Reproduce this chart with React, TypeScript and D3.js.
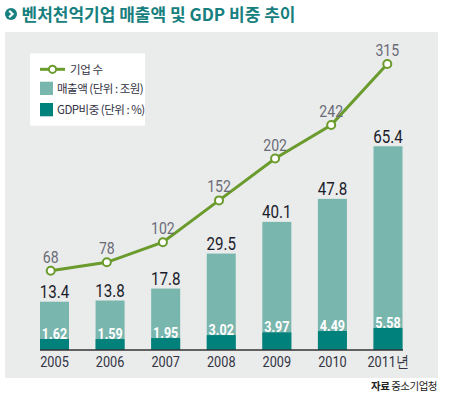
import React from 'react';
import * as d3 from 'd3';

const years = ['2005', '2006', '2007', '2008', '2009', '2010', '2011년'];
const companies = [68, 78, 102, 152, 202, 242, 315];
const sales = [13.4, 13.8, 17.8, 29.5, 40.1, 47.8, 65.4];
const gdpShare = [1.62, 1.59, 1.95, 3.02, 3.97, 4.49, 5.58];

const NUM_FONT = '"Roboto", sans-serif';
const KR_FONT = '"Noto Sans CJK KR", "Noto Sans", sans-serif';

// narrow-looking numbers: squeeze Roboto horizontally
const Narrow = ({ x, y, sx, children, ...rest }: any) => (
  <text transform={`translate(${x},${y}) scale(${sx},1)`} textAnchor="middle" fontFamily={NUM_FONT} {...rest}>
    {children}
  </text>
);

const App = () => {
  const base = 350;

  // bar centres and line points
  const xBar = d3.scalePoint<string>().domain(years).range([54.5, 388]);
  const xLine = d3.scalePoint<string>().domain(years).range([50.7, 387.3]);
  const barW = 29;

  const ySales = d3.scaleLinear().domain([-2.75, 70]).range([base, 132.5]);
  const yGdp = d3.scaleLinear().domain([0, 10]).range([base - 6.5, base - 6.5 - 27.8]);
  const yCount = d3.scaleLinear().domain([0, 315]).range([327.6, 64]);

  const line = d3.line<number>()
    .x((_, i) => xLine(years[i]) as number)
    .y(d => yCount(d));

  return (
    <svg width={450} height={399} style={{ position: 'absolute', left: 0, top: 0 }}>
      <rect width={450} height={399} fill="#fff" />
      {/* title */}
      <circle cx={11} cy={14} r={6} fill="#17807e" />
      <path d="M9.2,10.8 L12.6,14 L9.2,17.2" fill="none" stroke="#fff" strokeWidth={2.2} />
      <text x={21.5} y={20.5} fontFamily={KR_FONT} fontWeight={700} fontSize={17} fill="#17807e">
        벤처천억기업 매출액 및 GDP 비중 추이
      </text>

      <rect x={5} y={32} width={433} height={346} fill="#e9eceb" />

      {/* legend */}
      <rect x={30} y={53.3} width={115} height={72.4} fill="#fff" />
      <line x1={40} x2={65} y1={69.3} y2={69.3} stroke="#6a9b2c" strokeWidth={3} />
      <circle cx={52.5} cy={69.3} r={3.6} fill="#fff" stroke="#6a9b2c" strokeWidth={2} />
      <text x={70} y={73.5} fontFamily={KR_FONT} fontSize={11.5} fill="#333344" letterSpacing={-0.4}>기업 수</text>
      <rect x={40} y={81.7} width={13} height={13.3} fill="#79b6ae" />
      <text x={57} y={92.7} fontFamily={KR_FONT} fontSize={11.5} fill="#333344" letterSpacing={-0.5}>매출액 (단위 : 조원)</text>
      <rect x={40} y={103} width={13} height={13.3} fill="#00817b" />
      <text x={57} y={114} fontFamily={KR_FONT} fontSize={11.5} fill="#333344" letterSpacing={-0.5}>GDP비중 (단위 : %)</text>

      {/* bars */}
      {years.map((y, i) => {
        const cx = xBar(y) as number;
        const top = ySales(sales[i]);
        const gTop = yGdp(gdpShare[i]);
        return (
          <g key={y}>
            <rect x={cx - barW / 2} y={top} width={barW} height={base - top} fill="#79b6ae" />
            <rect x={cx - barW / 2} y={gTop} width={barW} height={base - gTop} fill="#00817b" />
            <Narrow x={cx} y={top - 3.5} sx={0.82} fontSize={18.5} fill="#1c1c2c">
              {sales[i].toFixed(1)}
            </Narrow>
            <Narrow x={cx} y={gTop} sx={0.84} fontSize={15} fontWeight={700} fill="#fff">
              {gdpShare[i].toFixed(2)}
            </Narrow>
            <Narrow x={cx} y={367} sx={0.82} fontSize={15.5} fill="#333344">
              {y}
            </Narrow>
          </g>
        );
      })}
      <line x1={40} x2={403} y1={base} y2={base} stroke="#333" strokeWidth={1.5} />

      {/* line */}
      <path d={line(companies) || ''} fill="none" stroke="#6a9b2c" strokeWidth={3} />
      {companies.map((v, i) => (
        <g key={i}>
          <circle cx={xLine(years[i]) as number} cy={yCount(v)} r={4} fill="#fff" stroke="#6a9b2c" strokeWidth={2} />
          <Narrow x={xLine(years[i]) as number} y={yCount(v) - 8} sx={0.88} fontSize={16} fill="#6b6b78">
            {v}
          </Narrow>
        </g>
      ))}

      {/* source */}
      <text x={437} y={390} textAnchor="end" fontFamily={KR_FONT} fontSize={10.5} fill="#222" letterSpacing={-0.5}>
        <tspan fontWeight={700}>자료</tspan> 중소기업청
      </text>
    </svg>
  );
};

export default App;
